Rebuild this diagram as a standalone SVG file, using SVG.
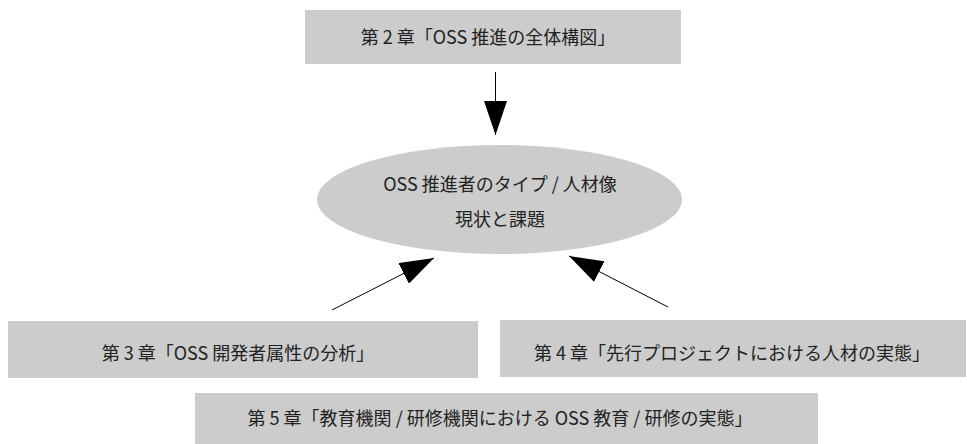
<svg xmlns="http://www.w3.org/2000/svg" width="967" height="444" viewBox="0 0 967 444">
  <defs>
    <style>
      .box { fill: #cccccc; stroke: none; }
      .lbl { font-family: "Noto Sans CJK JP", "Noto Sans", sans-serif; font-size: 18px; fill: #222222; text-anchor: middle; }
      .conn { stroke: #000000; stroke-width: 1; fill: none; }
    </style>
    <marker id="arrow" markerUnits="userSpaceOnUse" markerWidth="34" markerHeight="23" refX="34" refY="11.5" orient="auto">
      <path d="M0,0 L34,11.5 L0,23 Z" fill="#000000"/>
    </marker>
  </defs>
  <rect width="967" height="444" fill="#ffffff"/>
  <g id="connectors">
    <line class="conn" x1="495.5" y1="72" x2="495.5" y2="135" marker-end="url(#arrow)"/>
    <line class="conn" x1="332" y1="310" x2="434" y2="258" marker-end="url(#arrow)"/>
    <line class="conn" x1="668" y1="307" x2="569" y2="256" marker-end="url(#arrow)"/>
  </g>
  <g id="ch2">
    <rect class="box" x="305" y="10" width="376" height="54"/>
    <text class="lbl" x="488" y="44">第 2 章「OSS 推進の全体構図」</text>
  </g>
  <g id="center">
    <ellipse cx="499.5" cy="199.5" rx="182.5" ry="54.5" fill="#cccccc"/>
    <text class="lbl" x="500" y="191">OSS 推進者のタイプ / 人材像</text>
    <text class="lbl" x="500" y="226">現状と課題</text>
  </g>
  <g id="ch3">
    <rect class="box" x="8" y="321" width="470" height="57"/>
    <text class="lbl" x="238" y="360">第 3 章「OSS 開発者属性の分析」</text>
  </g>
  <g id="ch4">
    <rect class="box" x="500" y="320" width="466" height="57"/>
    <text class="lbl" x="732" y="360">第 4 章「先行プロジェクトにおける人材の実態」</text>
  </g>
  <g id="ch5">
    <rect class="box" x="195" y="393" width="623" height="51"/>
    <text class="lbl" x="500" y="425">第 5 章「教育機関 / 研修機関における OSS 教育 / 研修の実態」</text>
  </g>
</svg>
